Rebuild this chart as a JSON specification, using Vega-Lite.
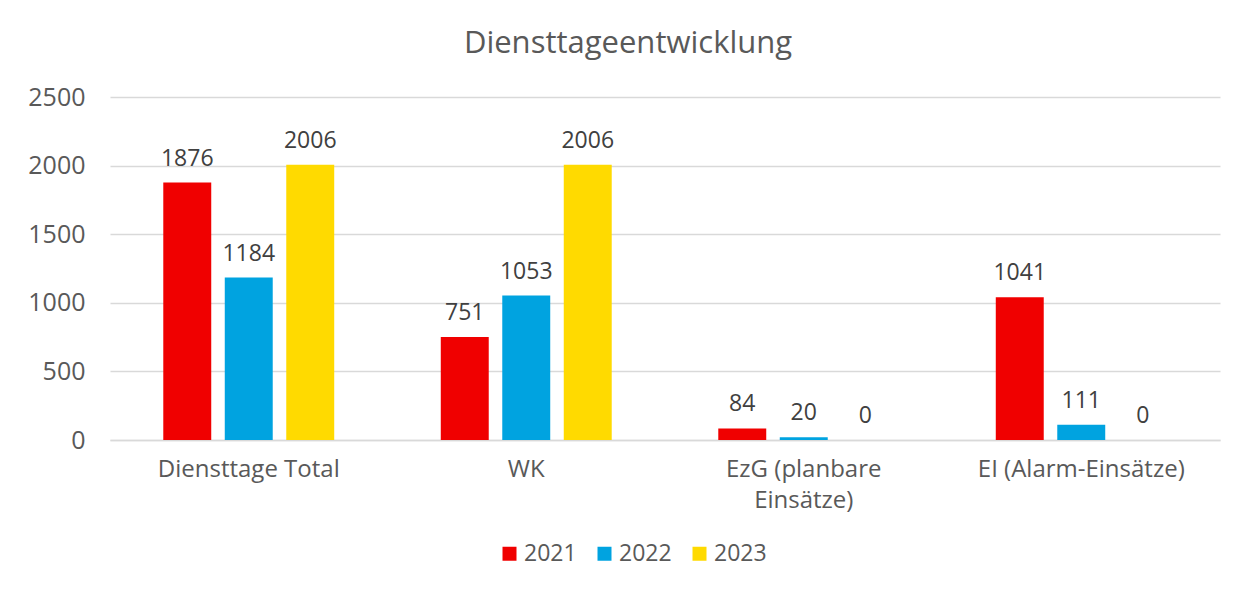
{
  "$schema": "https://vega.github.io/schema/vega-lite/v6.json",
  "width": 1110,
  "height": 343,
  "padding": {"left": 110, "top": 97, "right": 18, "bottom": 149},
  "autosize": {"type": "none"},
  "background": "white",
  "title": {
    "text": "Diensttageentwicklung",
    "font": "Open Sans",
    "fontSize": 31,
    "fontWeight": "normal",
    "color": "#595959",
    "anchor": "middle",
    "frame": "group",
    "dx": -37,
    "offset": 25
  },
  "data": {
    "values": [
      {"kategorie": "Diensttage Total", "jahr": "2021", "tage": 1876},
      {"kategorie": "Diensttage Total", "jahr": "2022", "tage": 1184},
      {"kategorie": "Diensttage Total", "jahr": "2023", "tage": 2006},
      {"kategorie": "WK", "jahr": "2021", "tage": 751},
      {"kategorie": "WK", "jahr": "2022", "tage": 1053},
      {"kategorie": "WK", "jahr": "2023", "tage": 2006},
      {"kategorie": "EzG (planbare Einsätze)", "jahr": "2021", "tage": 84},
      {"kategorie": "EzG (planbare Einsätze)", "jahr": "2022", "tage": 20},
      {"kategorie": "EzG (planbare Einsätze)", "jahr": "2023", "tage": 0},
      {"kategorie": "EI (Alarm-Einsätze)", "jahr": "2021", "tage": 1041},
      {"kategorie": "EI (Alarm-Einsätze)", "jahr": "2022", "tage": 111},
      {"kategorie": "EI (Alarm-Einsätze)", "jahr": "2023", "tage": 0}
    ]
  },
  "encoding": {
    "x": {
      "field": "kategorie",
      "type": "nominal",
      "sort": null,
      "scale": {"paddingInner": 0.384, "paddingOuter": 0.192},
      "axis": {
        "title": null,
        "labelAngle": 0,
        "labelFont": "Open Sans",
        "labelFontSize": 24,
        "labelColor": "#595959",
        "labelPadding": 17,
        "labelLimit": 0,
        "labelLineHeight": 31,
        "labelExpr": "datum.label == 'EzG (planbare Einsätze)' ? ['EzG (planbare', 'Einsätze)'] : datum.label",
        "ticks": false,
        "domainColor": "#D9D9D9",
        "domainWidth": 1.5
      }
    },
    "xOffset": {
      "field": "jahr",
      "type": "nominal",
      "scale": {"paddingInner": 0.22, "paddingOuter": 0}
    },
    "y": {
      "field": "tage",
      "type": "quantitative",
      "scale": {"domain": [0, 2500], "nice": false},
      "axis": {
        "title": null,
        "values": [0, 500, 1000, 1500, 2000, 2500],
        "format": "d",
        "labelFont": "Open Sans",
        "labelFontSize": 25,
        "labelColor": "#595959",
        "labelPadding": 25,
        "ticks": false,
        "domain": false,
        "gridColor": "#D9D9D9",
        "gridWidth": 1.5
      }
    },
    "color": {
      "field": "jahr",
      "type": "nominal",
      "scale": {"domain": ["2021", "2022", "2023"], "range": ["#F00000", "#00A3E0", "#FFDA00"]},
      "legend": {
        "title": null,
        "orient": "none",
        "direction": "horizontal",
        "legendX": 388,
        "legendY": 445,
        "symbolType": "square",
        "symbolSize": 196,
        "symbolStrokeWidth": 0,
        "labelFont": "Open Sans",
        "labelFontSize": 23,
        "labelColor": "#595959",
        "labelOffset": 3,
        "columnPadding": 16
      }
    }
  },
  "layer": [
    {"mark": {"type": "bar"}},
    {
      "mark": {
        "type": "text",
        "baseline": "bottom",
        "dy": -12,
        "font": "Open Sans",
        "fontSize": 23,
        "color": "#404040"
      },
      "encoding": {
        "text": {"field": "tage", "type": "quantitative"},
        "color": {"value": "#404040"}
      }
    }
  ],
  "config": {"view": {"stroke": null}}
}
